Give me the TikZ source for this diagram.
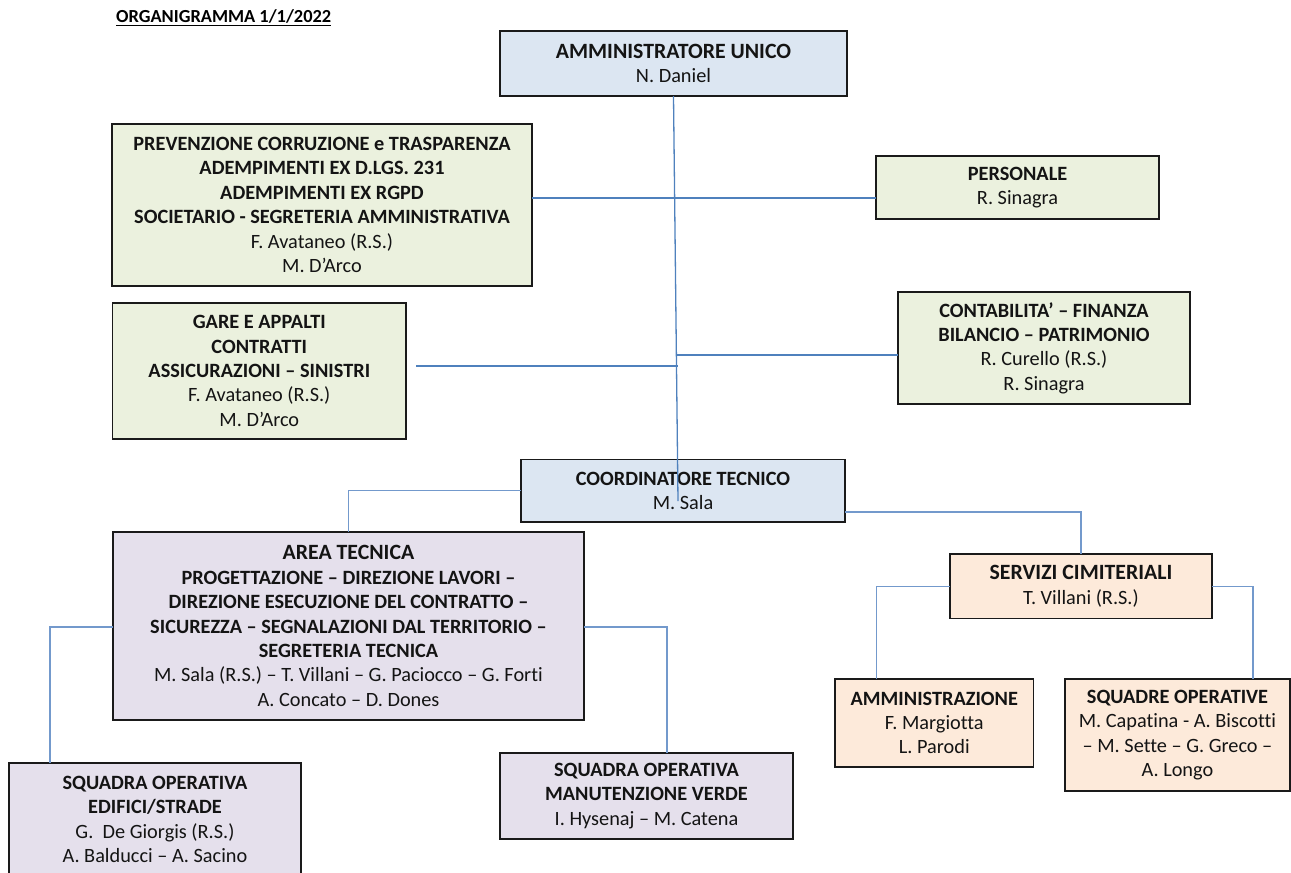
\documentclass[tikz,border=0pt]{standalone}
\usepackage{fontspec}
\setmainfont{Carlito}[Ligatures=NoCommon]
\definecolor{gfill}{HTML}{EBF1DE}
\definecolor{bfill}{HTML}{DCE6F2}
\definecolor{pfill}{HTML}{E5E0EC}
\definecolor{ofill}{HTML}{FDEADA}
\definecolor{lblue}{HTML}{4F81BD}
\definecolor{llblue}{HTML}{7399CC}
\definecolor{bord}{HTML}{1A1A1A}
\newcommand{\bigtitle}[1]{{\fontsize{21.8}{24.4}\selectfont\bfseries #1}}
\tikzset{
  orgbox/.style={draw=bord, line width=1.6pt, inner sep=0pt, outer sep=0pt, align=center,
    font=\fontsize{20.3}{24.4}\selectfont, text=black!92},
  gbox/.style={orgbox, fill=gfill},
  bbox/.style={orgbox, fill=bfill},
  pbox/.style={orgbox, fill=pfill},
  obox/.style={orgbox, fill=ofill},
  mainline/.style={draw=lblue, line width=2.2pt},
  vline/.style={draw=lblue, line width=1.3pt},
  subline/.style={draw=llblue, line width=1.3pt},
}
\begin{document}
\begin{tikzpicture}[x=1pt,y=-1pt]
\useasboundingbox (0,0) rectangle (1291,873);
% title
\node[anchor=base west, inner sep=0pt, font=\fontsize{18.4}{20}\selectfont\bfseries] (title) at (116,22.5)
  {\underline{ORGANIGRAMMA 1/1/2022}};
% boxes
\node[bbox, minimum width=347, minimum height=65.3] (amm) at (673.5,63.4)
  {\bigtitle{AMMINISTRATORE UNICO}\\N. Daniel};
\node[gbox, minimum width=420, minimum height=162] (prev) at (322,205)
  {\textbf{PREVENZIONE CORRUZIONE e TRASPARENZA}\\\textbf{ADEMPIMENTI EX D.LGS. 231}\\\textbf{ADEMPIMENTI EX RGPD}\\\textbf{SOCIETARIO - SEGRETERIA AMMINISTRATIVA}\\F. Avataneo (R.S.)\\M. D’Arco};
\node[gbox, minimum width=283, minimum height=63.3] (pers) at (1017.5,187.4)
  {\textbf{PERSONALE}\\R. Sinagra};
\node[gbox, minimum width=293.4, minimum height=136.3] (gare) at (259.3,370.9)
  {\textbf{GARE E APPALTI}\\\textbf{CONTRATTI}\\\textbf{ASSICURAZIONI – SINISTRI}\\F. Avataneo (R.S.)\\M. D’Arco};
\node[gbox, minimum width=292, minimum height=112] (cont) at (1044,348)
  {\textbf{CONTABILITA’ – FINANZA}\\\textbf{BILANCIO – PATRIMONIO}\\R. Curello (R.S.)\\R. Sinagra};
\node[bbox, minimum width=324, minimum height=62.5] (coord) at (683,490.8)
  {\textbf{COORDINATORE TECNICO}\\M. Sala};
\node[pbox, minimum width=471, minimum height=188] (area) at (348.5,626)
  {\bigtitle{AREA TECNICA}\\\textbf{PROGETTAZIONE – DIREZIONE LAVORI –}\\\textbf{DIREZIONE ESECUZIONE DEL CONTRATTO –}\\\textbf{SICUREZZA – SEGNALAZIONI DAL TERRITORIO –}\\\textbf{SEGRETERIA TECNICA}\\M. Sala (R.S.) – T. Villani – G. Paciocco – G. Forti\\A. Concato – D. Dones};
\node[obox, minimum width=262, minimum height=64.5] (serv) at (1081,586.3)
  {\bigtitle{SERVIZI CIMITERIALI}\\T. Villani (R.S.)};
\node[obox, minimum width=198.5, minimum height=88] (amm2) at (934.3,723)
  {\textbf{AMMINISTRAZIONE}\\F. Margiotta\\L. Parodi};
\node[obox, minimum width=225, minimum height=112] (squad) at (1177.5,735)
  {\textbf{SQUADRE OPERATIVE}\\M. Capatina - A. Biscotti\\– M. Sette – G. Greco –\\A. Longo};
\node[pbox, minimum width=292, minimum height=113] (edif) at (155,819.5)
  {\textbf{SQUADRA OPERATIVA}\\\textbf{EDIFICI/STRADE}\\G.\ \ De Giorgis (R.S.)\\A. Balducci – A. Sacino};
\node[pbox, minimum width=293, minimum height=86] (manut) at (646.5,796)
  {\textbf{SQUADRA OPERATIVA}\\\textbf{MANUTENZIONE VERDE}\\I. Hysenaj – M. Catena};
% helper coordinates
\coordinate (vend) at (678,501);
\coordinate (yprev) at (0,198);
\coordinate (g1) at (416,366);
\coordinate (g2) at (678,366);
\coordinate (c1) at (677,355);
\coordinate (ycr) at (0,512);
\coordinate (xsl) at (876.5,0);
\coordinate (xsr) at (1253,0);
\coordinate (ya) at (0,627);
\coordinate (xal) at (50,0);
\coordinate (xar) at (667,0);
% connectors
\draw[mainline] (prev.east |- yprev) -- (pers.west |- yprev);
\draw[mainline] (g1) -- (g2);
\draw[mainline] (c1) -- (cont.west |- c1);
\draw[vline] (amm.south) -- (vend);
\draw[subline] (coord.west) -| (area.north);
\draw[subline] (coord.east |- ycr) -| (serv.north);
\draw[subline] (serv.west) -| (xsl |- amm2.north);
\draw[subline] (serv.east) -| (xsr |- squad.north);
\draw[subline] (area.west |- ya) -| (xal |- edif.north);
\draw[subline] (area.east |- ya) -| (xar |- manut.north);
\end{tikzpicture}
\end{document}
